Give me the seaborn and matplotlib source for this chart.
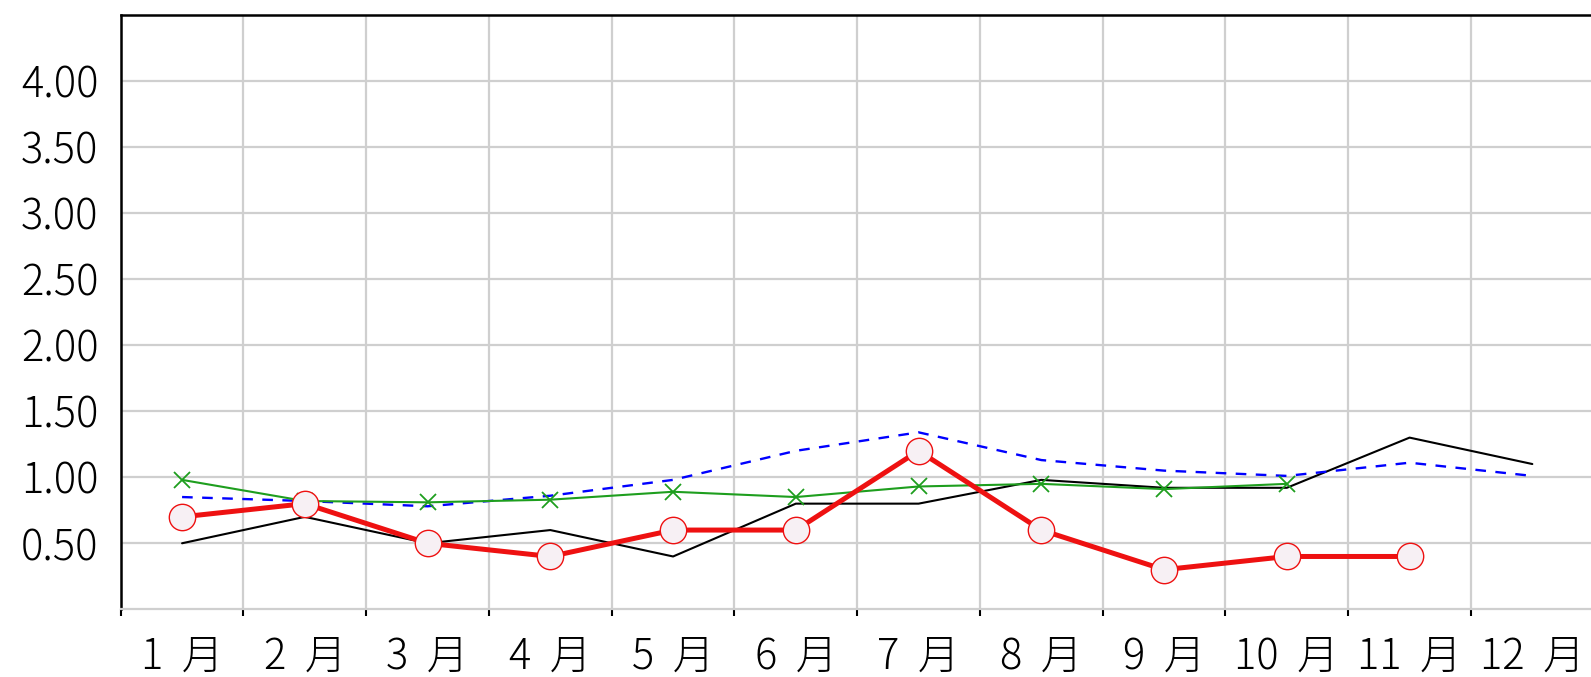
import numpy as np
import matplotlib
matplotlib.use("Agg")
import matplotlib.pyplot as plt
import seaborn as sns

# ── DATA ──────────────────────────────────────────────────────────────
months = ["1  月", "2  月", "3  月", "4  月", "5  月", "6  月",
          "7  月", "8  月", "9  月", "10  月", "11  月", "12  月"]

red_vals   = [0.70, 0.80, 0.50, 0.40, 0.60, 0.60, 1.20, 0.60, 0.30, 0.40, 0.40]
black_vals = [0.50, 0.70, 0.50, 0.60, 0.40, 0.80, 0.80, 0.98, 0.92, 0.92, 1.30, 1.10]
green_vals = [0.98, 0.82, 0.81, 0.83, 0.89, 0.85, 0.93, 0.95, 0.91, 0.95]
blue_vals  = [0.85, 0.82, 0.78, 0.86, 0.98, 1.20, 1.34, 1.13, 1.05, 1.01, 1.11, 1.01]

y_ticks = [0.5, 1.0, 1.5, 2.0, 2.5, 3.0, 3.5, 4.0]

# ── STYLE ─────────────────────────────────────────────────────────────
sns.set_style("white")
plt.rcParams['font.family'] = ['Noto Sans CJK JP', 'DejaVu Sans']
plt.rcParams['font.weight'] = 'light'

fig = plt.figure(figsize=(15.91, 6.77), dpi=100)
ax = fig.add_axes([120.7 / 1591, (677 - 609.3) / 677,
                   (122.75 * 12) / 1591, (609.3 - 15) / 677])

# ── LINES ─────────────────────────────────────────────────────────────
sns.lineplot(x=np.arange(len(black_vals)), y=black_vals, ax=ax,
             color='black', linewidth=1.5, zorder=3)
sns.lineplot(x=np.arange(len(blue_vals)), y=blue_vals, ax=ax,
             color='#0000ff', linewidth=1.7, zorder=3)
ax.lines[-1].set_dashes([4.5, 4])
sns.lineplot(x=np.arange(len(green_vals)), y=green_vals, ax=ax,
             color='#1e9e1e', linewidth=1.5, marker='x', markersize=11,
             markeredgecolor='#1e9e1e', markeredgewidth=1.3, zorder=4)
sns.lineplot(x=np.arange(len(red_vals)), y=red_vals, ax=ax,
             color='#ee1111', linewidth=3.6, marker='o', markersize=19,
             markerfacecolor='#f7f0f4', markeredgecolor='#ee1111',
             markeredgewidth=1.0, zorder=5)

# ── AXES ──────────────────────────────────────────────────────────────
ax.set_xlim(-0.5, 11.5)
ax.set_ylim(0, 4.5)
ax.set_xticks(np.arange(12))
ax.set_xticklabels(months, fontsize=30, color='black', fontweight='light')
ax.set_xticks(np.arange(-0.5, 12, 1), minor=True)
ax.set_yticks(y_ticks)
ax.set_yticklabels([f"{v:.2f}" for v in y_ticks], fontsize=30,
                   color='black', fontweight='light')
ax.set_xlabel("")
ax.set_ylabel("")

ax.tick_params(axis='x', which='major', length=0, pad=19)
ax.tick_params(axis='x', which='minor', bottom=True, length=5, width=1.5,
               color='black', direction='out')
ax.tick_params(axis='y', length=0, pad=16)

ax.grid(False)
ax.xaxis.grid(True, which='minor', color='#cfcfcf', linewidth=1.6)
ax.yaxis.grid(True, which='major', color='#cfcfcf', linewidth=1.6)
ax.set_axisbelow(True)

for side in ['left', 'top']:
    ax.spines[side].set_color('black')
    ax.spines[side].set_linewidth(1.8)
ax.spines['bottom'].set_color('#cfcfcf')
ax.spines['bottom'].set_linewidth(1.6)
ax.spines['right'].set_visible(False)

fig.savefig("out.png", dpi=100)
